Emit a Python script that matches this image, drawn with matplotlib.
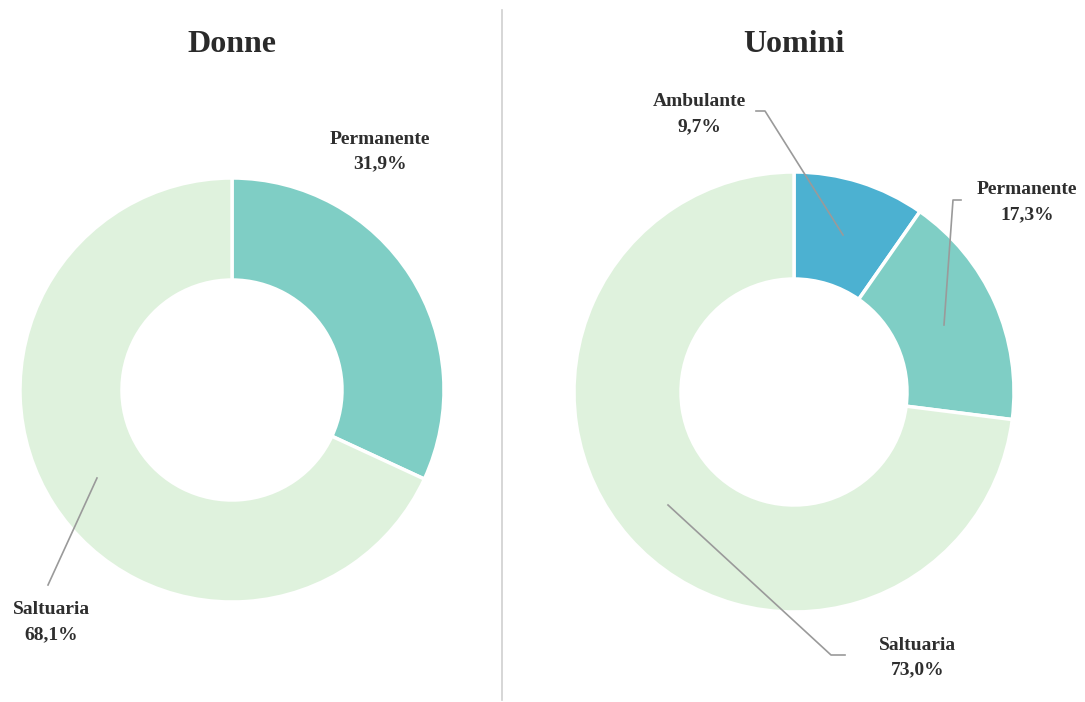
import matplotlib.pyplot as plt

# data
donne_labels = ["Permanente", "Saltuaria"]
donne_values = [31.9, 68.1]
uomini_labels = ["Ambulante", "Permanente", "Saltuaria"]
uomini_values = [9.7, 17.3, 73.0]

colori = {"Ambulante": "#4cb1d1", "Permanente": "#7fcec5", "Saltuaria": "#dff2dd"}

W, H = 1085, 702
fig = plt.figure(figsize=(W / 100, H / 100), dpi=100)
ax = fig.add_axes([0, 0, 1, 1])
ax.set_xlim(0, W)
ax.set_ylim(0, H)
ax.set_aspect("equal")
ax.axis("off")

serif = ["Liberation Serif", "DejaVu Serif"]


def Y(y):
    # image pixel row -> axes coordinate
    return H - y


def donut(values, labels, cx, cy, r_out, r_in):
    ax.pie(values, colors=[colori[l] for l in labels], startangle=90,
           counterclock=False, center=(cx, Y(cy)), radius=r_out,
           wedgeprops=dict(width=r_out - r_in, edgecolor="white", linewidth=2.5),
           frame=True)


donut(donne_values, donne_labels, 232, 390, 212, 110)
donut(uomini_values, uomini_labels, 794, 392, 220, 113)
ax.set_xlim(0, W)
ax.set_ylim(0, H)
ax.axis("off")

# titles
ax.text(232, Y(45), "Donne", ha="center", va="center", fontsize=23,
        fontweight="bold", family=serif, color="#2a2a2a")
ax.text(794, Y(45), "Uomini", ha="center", va="center", fontsize=23,
        fontweight="bold", family=serif, color="#2a2a2a")

# separator
ax.plot([502, 502], [Y(10), Y(700)], color="#cfcfcf", linewidth=1.2)


def etichetta(x, y, nome, val):
    ax.text(x, Y(y), nome, ha="center", va="center", fontsize=14,
            fontweight="bold", family=serif, color="#2e2e2e")
    ax.text(x, Y(y + 25), f"{val:.1f}%".replace(".", ","), ha="center", va="center",
            fontsize=14, fontweight="bold", family=serif, color="#2e2e2e")


etichetta(380, 139, donne_labels[0], donne_values[0])
etichetta(51, 610, donne_labels[1], donne_values[1])
etichetta(699, 102, uomini_labels[0], uomini_values[0])
etichetta(1027, 190, uomini_labels[1], uomini_values[1])
etichetta(918, 645, uomini_labels[2], uomini_values[2])

# leader lines
lc = "#9a9a9a"
ax.plot([48, 97], [Y(585), Y(478)], color=lc, linewidth=1.2)
ax.plot([756, 765, 843], [Y(111), Y(111), Y(235)], color=lc, linewidth=1.2)
ax.plot([961, 953, 944], [Y(200), Y(200), Y(325)], color=lc, linewidth=1.2)
ax.plot([668, 831, 845], [Y(505), Y(655), Y(655)], color=lc, linewidth=1.2)

fig.savefig("out.png", dpi=100)
